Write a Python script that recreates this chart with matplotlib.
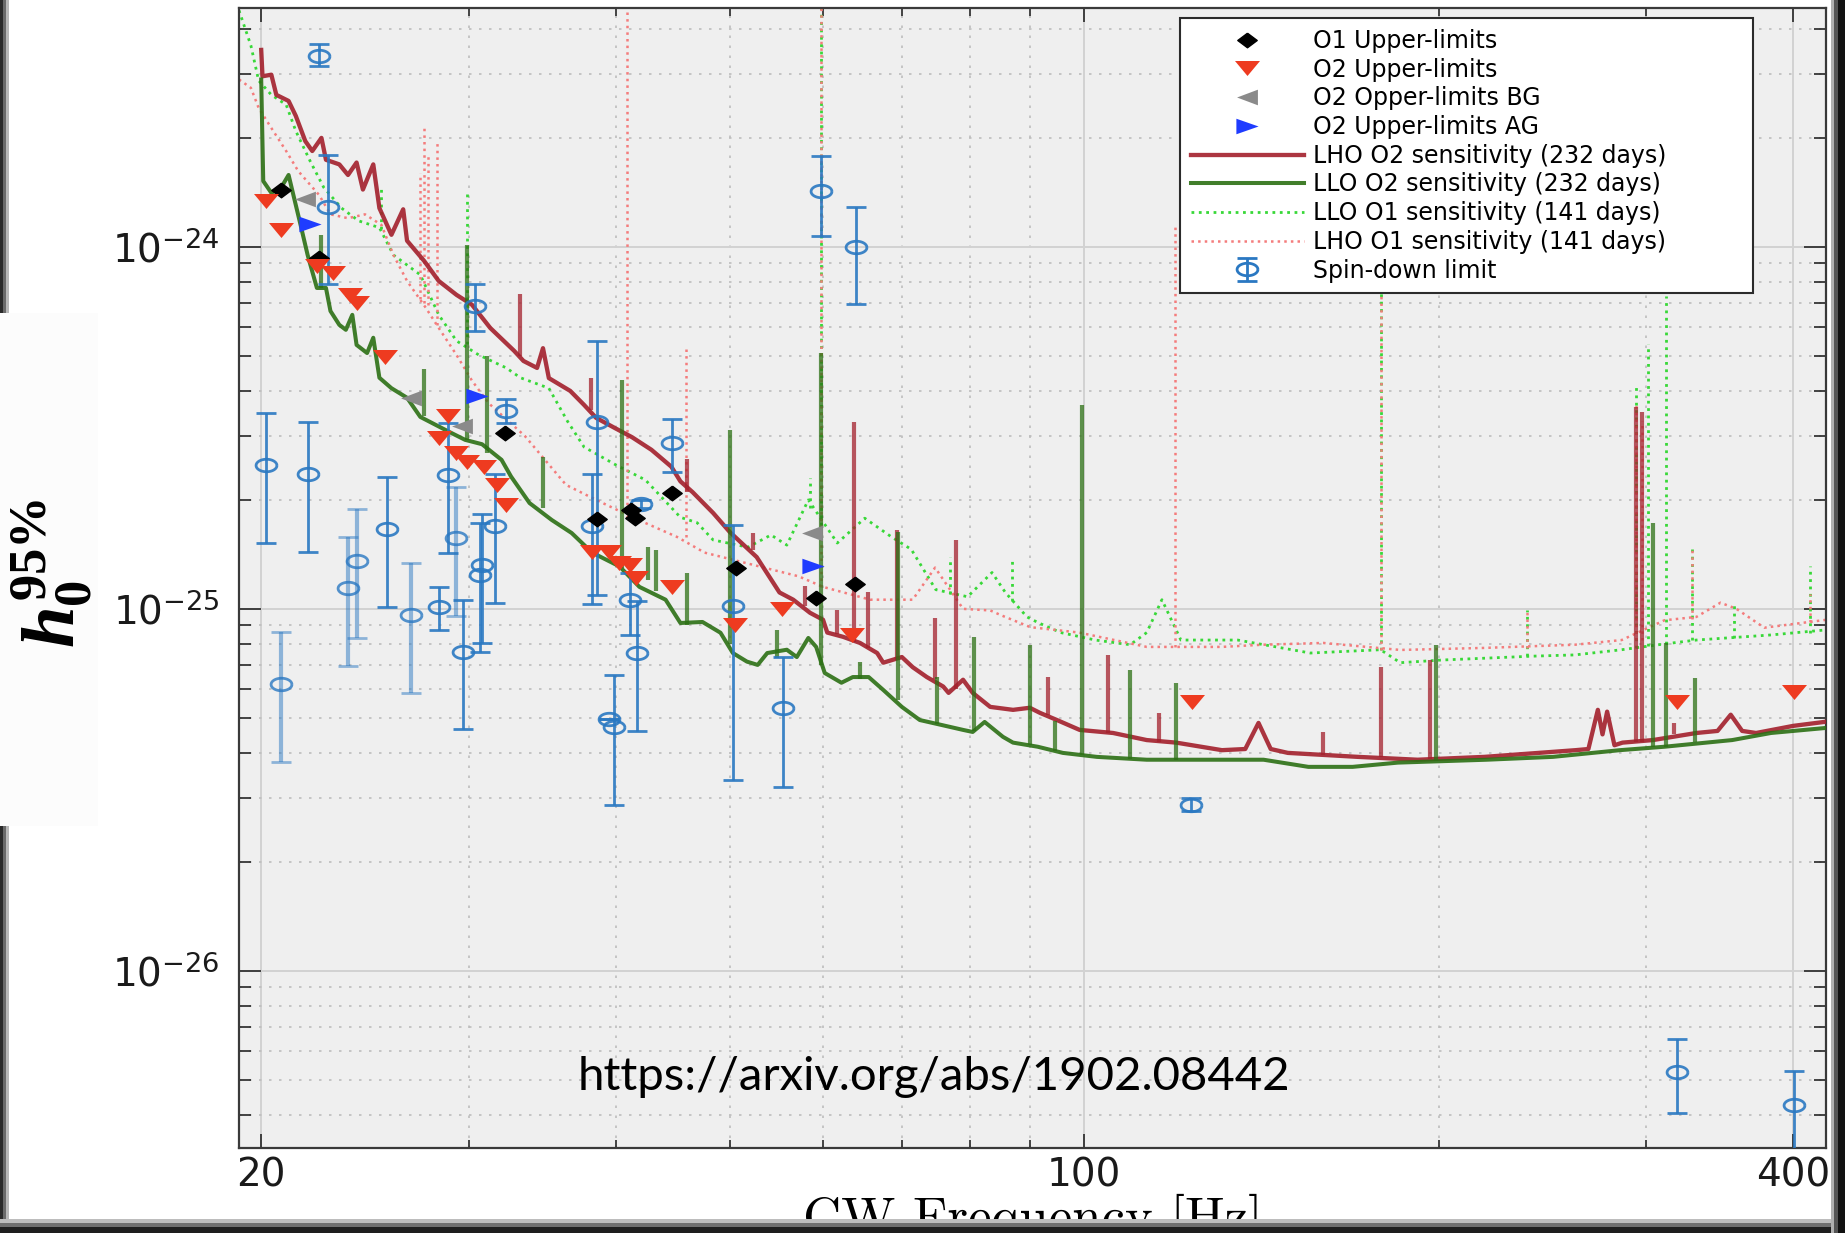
import numpy as np
import matplotlib
matplotlib.use('Agg')
import matplotlib.pyplot as plt
from matplotlib.path import Path
from matplotlib.patches import Rectangle
from matplotlib.ticker import FixedLocator, LogLocator, FuncFormatter, NullFormatter

plt.rcParams['font.family'] = ['DejaVu Sans']
plt.rcParams['axes.unicode_minus'] = False
plt.rcParams['mathtext.fontset'] = 'custom'
plt.rcParams['mathtext.it'] = 'Liberation Serif:italic:bold'
plt.rcParams['mathtext.rm'] = 'Liberation Serif:bold'
plt.rcParams['mathtext.bf'] = 'Liberation Serif:bold'

# ---- sensitivity curves: (frequency [Hz], h0) ----
lho_o2 = [(20.0, 3.5e-24), (20.05, 2.96e-24), (20.4, 2.99e-24), (20.6, 2.63e-24), (21.1, 2.53e-24),
          (21.4, 2.30e-24), (21.8, 1.96e-24), (22.1, 1.84e-24), (22.5, 2.0e-24), (22.7, 1.74e-24),
          (23.3, 1.69e-24), (23.7, 1.58e-24), (24.1, 1.71e-24), (24.4, 1.44e-24), (24.9, 1.69e-24),
          (25.2, 1.28e-24), (25.8, 1.08e-24), (26.4, 1.27e-24), (26.6, 1.04e-24), (27.5, 9.15e-25),
          (28.3, 8.05e-25), (29.3, 7.37e-25), (30.2, 6.92e-25), (31.3, 5.97e-25), (32.8, 5.16e-25),
          (33.4, 4.84e-25), (34.3, 4.63e-25), (34.7, 5.25e-25), (35.1, 4.34e-25), (36.6, 4.0e-25),
          (37.6, 3.66e-25), (38.5, 3.37e-25), (40.0, 3.15e-25), (41.3, 2.98e-25), (42.9, 2.75e-25),
          (44.6, 2.47e-25), (45.4, 2.25e-25), (46.5, 2.1e-25), (48.4, 1.84e-25), (50.0, 1.63e-25),
          (52.7, 1.39e-25), (55.1, 1.11e-25), (56.6, 1.06e-25), (58.5, 9.75e-26), (60.0, 9.33e-26),
          (60.5, 8.6e-26), (62.4, 8.37e-26), (64.5, 8.05e-26), (66.7, 7.55e-26), (67.5, 7.1e-26),
          (70.0, 7.36e-26), (71.5, 6.9e-26), (73.5, 6.48e-26), (75.9, 6.1e-26), (76.7, 5.86e-26),
          (78.9, 6.37e-26), (80.4, 5.86e-26), (83.2, 5.36e-26), (87.0, 5.26e-26), (89.9, 5.33e-26),
          (91.7, 5.16e-26), (94.8, 4.93e-26), (99.1, 4.63e-26), (105.8, 4.54e-26), (113.0, 4.34e-26),
          (119.7, 4.27e-26), (130.9, 4.07e-26), (137.0, 4.1e-26), (140.6, 4.84e-26), (144.0, 4.1e-26),
          (148.9, 4.0e-26), (170.8, 3.9e-26), (191.9, 3.83e-26), (218.7, 3.9e-26), (261.4, 4.07e-26),
          (268.0, 4.1e-26), (273.0, 5.26e-26), (275.5, 4.5e-26), (278.0, 5.2e-26), (282.0, 4.2e-26),
          (286.5, 4.27e-26), (304.0, 4.34e-26), (331.0, 4.54e-26), (345.0, 4.6e-26), (354.0, 5.1e-26),
          (362.0, 4.6e-26), (372.0, 4.54e-26), (400.0, 4.75e-26), (427.0, 4.88e-26)]

llo_o2 = [(20.0, 2.9e-24), (20.08, 1.52e-24), (20.4, 1.41e-24), (20.8, 1.46e-24), (21.1, 1.58e-24),
          (21.3, 1.39e-24), (21.6, 1.15e-24), (21.9, 9.5e-25), (22.3, 7.7e-25), (22.7, 7.7e-25),
          (22.9, 6.65e-25), (23.3, 6.09e-25), (23.6, 5.9e-25), (23.9, 6.49e-25), (24.1, 5.36e-25),
          (24.6, 5.09e-25), (24.9, 5.61e-25), (25.2, 4.35e-25), (25.8, 4.07e-25), (26.6, 3.83e-25),
          (27.3, 3.39e-25), (28.9, 3.08e-25), (29.8, 2.93e-25), (30.8, 2.85e-25), (32.0, 2.58e-25),
          (32.6, 2.32e-25), (33.8, 1.96e-25), (35.3, 1.76e-25), (36.7, 1.62e-25), (38.2, 1.43e-25),
          (40.3, 1.31e-25), (41.9, 1.15e-25), (44.1, 1.06e-25), (45.4, 9.14e-26), (47.4, 9.2e-26),
          (49.1, 8.59e-26), (50.3, 7.55e-26), (51.7, 7.15e-26), (52.8, 7.0e-26), (53.8, 7.55e-26),
          (55.9, 7.71e-26), (57.0, 7.36e-26), (58.3, 8.31e-26), (59.2, 7.85e-26), (60.2, 6.65e-26),
          (62.2, 6.25e-26), (63.6, 6.48e-26), (65.6, 6.48e-26), (67.5, 5.97e-26), (70.0, 5.36e-26),
          (72.5, 4.93e-26), (75.6, 4.78e-26), (78.9, 4.63e-26), (80.4, 4.57e-26), (82.3, 4.87e-26),
          (85.3, 4.43e-26), (87.0, 4.27e-26), (91.3, 4.16e-26), (95.9, 4.0e-26), (102.5, 3.9e-26),
          (113.0, 3.83e-26), (124.6, 3.83e-26), (142.0, 3.83e-26), (155.0, 3.66e-26), (169.0, 3.66e-26),
          (184.6, 3.76e-26), (219.6, 3.83e-26), (250.0, 3.9e-26), (285.0, 4.07e-26), (311.0, 4.16e-26),
          (355.0, 4.34e-26), (383.0, 4.54e-26), (427.0, 4.69e-26)]

llo_o1 = [(19.15, 4.5e-24), (19.6, 3.6e-24), (19.9, 2.88e-24), (20.4, 2.63e-24), (21.0, 2.47e-24),
          (21.4, 2.09e-24), (22.0, 1.73e-24), (22.6, 1.46e-24), (23.4, 1.28e-24), (24.2, 1.18e-24),
          (25.2, 1.13e-24), (25.9, 9.5e-25), (27.3, 8.37e-25), (28.3, 6.49e-25), (29.3, 5.5e-25),
          (30.6, 5.03e-25), (32.3, 4.63e-25), (33.2, 4.35e-25), (35.1, 4.07e-25), (36.4, 3.3e-25),
          (37.6, 2.8e-25), (40.0, 2.5e-25), (42.4, 2.27e-25), (45.4, 1.79e-25), (46.9, 1.73e-25),
          (48.4, 1.55e-25), (51.8, 1.48e-25), (54.2, 1.6e-25), (55.9, 1.5e-25), (58.3, 2.0e-25),
          (61.7, 1.52e-25), (65.1, 1.78e-25), (68.6, 1.58e-25), (71.3, 1.46e-25), (74.8, 1.13e-25),
          (79.6, 1.08e-25), (83.5, 1.26e-25), (85.7, 1.11e-25), (89.4, 9.5e-26), (91.5, 9.14e-26),
          (95.5, 8.6e-26), (102.2, 8.2e-26), (109.4, 7.96e-26), (113.0, 8.6e-26), (116.4, 1.06e-25),
          (120.8, 8.2e-26), (135.0, 8.2e-26), (155.6, 7.55e-26), (178.5, 7.71e-26), (185.5, 7.1e-26),
          (201.0, 7.22e-26), (240.0, 7.4e-26), (261.0, 7.46e-26), (286.0, 7.71e-26), (311.0, 8.0e-26),
          (331.0, 8.2e-26), (383.0, 8.47e-26), (427.0, 8.75e-26)]

lho_o1 = [(19.15, 2.9e-24), (19.6, 2.75e-24), (19.9, 2.42e-24), (20.4, 2.13e-24), (21.0, 1.84e-24),
          (21.5, 1.62e-24), (22.4, 1.39e-24), (22.9, 1.23e-24), (23.7, 1.2e-24), (24.5, 1.23e-24),
          (25.3, 1.15e-24), (25.9, 9.5e-25), (26.6, 8.05e-25), (27.6, 6.78e-25), (28.3, 5.97e-25),
          (29.3, 5.03e-25), (30.2, 4.27e-25), (31.2, 3.7e-25), (33.5, 3.0e-25), (36.3, 2.2e-25),
          (38.5, 2.0e-25), (41.5, 1.78e-25), (45.1, 1.58e-25), (47.6, 1.43e-25), (50.6, 1.36e-25),
          (57.2, 1.23e-25), (60.0, 1.15e-25), (65.8, 1.06e-25), (71.5, 1.06e-25), (74.7, 1.3e-25),
          (78.9, 1.0e-25), (83.2, 9.9e-26), (85.0, 9.6e-26), (90.0, 8.9e-26), (99.0, 8.6e-26),
          (113.0, 7.85e-26), (130.9, 7.85e-26), (141.8, 7.96e-26), (159.6, 8.05e-26), (185.5, 7.7e-26),
          (218.7, 7.8e-26), (261.0, 7.96e-26), (286.0, 8.2e-26), (311.0, 9.3e-26), (331.0, 9.5e-26),
          (347.0, 1.04e-25), (358.0, 1.0e-25), (378.0, 8.87e-26), (413.0, 9.2e-26), (427.0, 9.33e-26)]

# ---- narrow instrumental lines: (frequency, floor, peak) ----
lho_o2_lines = [(33.2, 5.0e-25, 7.4e-25), (38.1, 3.55e-25, 4.34e-25), (46.0, 2.1e-25, 2.6e-25),
                (52.3, 1.45e-25, 1.62e-25), (57.9, 1.02e-25, 1.16e-25), (61.7, 8.5e-26, 9.9e-26),
                (63.7, 8.1e-26, 3.29e-25), (65.5, 7.8e-26, 1.11e-25), (69.3, 7.2e-26, 1.65e-25),
                (74.7, 6.4e-26, 9.45e-26), (77.8, 6.0e-26, 1.55e-25), (93.1, 5.1e-26, 6.48e-26),
                (104.7, 4.55e-26, 7.46e-26), (115.8, 4.3e-26, 5.16e-26), (159.6, 3.95e-26, 4.57e-26),
                (178.6, 3.9e-26, 6.92e-26), (196.6, 3.85e-26, 7.22e-26), (294.3, 4.3e-26, 3.61e-25),
                (297.5, 4.3e-26, 3.5e-25), (317.0, 4.5e-26, 4.84e-26)]

llo_o2_lines = [(22.5, 7.7e-25, 1.08e-24), (27.5, 3.4e-25, 4.6e-25), (29.9, 2.93e-25, 1.01e-24),
                (31.1, 2.7e-25, 5.0e-25), (34.7, 1.9e-25, 2.63e-25), (40.5, 1.3e-25, 4.3e-25),
                (42.6, 1.2e-25, 1.48e-25), (43.3, 1.12e-25, 1.45e-25), (46.0, 9.0e-26, 1.26e-25),
                (50.0, 8.0e-26, 3.12e-25), (54.8, 7.3e-26, 8.75e-26), (59.8, 7.0e-26, 5.1e-25),
                (64.5, 6.4e-26, 7.15e-26), (69.5, 5.6e-26, 1.63e-25), (75.0, 4.8e-26, 6.48e-26),
                (80.6, 4.6e-26, 8.37e-26), (89.9, 4.2e-26, 7.96e-26), (94.5, 4.05e-26, 4.9e-26),
                (99.6, 3.95e-26, 3.66e-25), (109.4, 3.85e-26, 6.79e-26), (119.7, 3.83e-26, 6.25e-26),
                (198.9, 3.8e-26, 7.96e-26), (304.0, 4.15e-26, 1.73e-25), (312.0, 4.15e-26, 8.05e-26),
                (330.0, 4.3e-26, 6.45e-26)]

llo_o1_lines = [(25.3, 1.12e-24, 1.48e-24), (29.9, 5.4e-25, 1.41e-24), (58.5, 1.9e-25, 2.3e-25),
                (59.8, 1.7e-25, 5.0e-24), (76.9, 1.1e-25, 1.39e-25), (86.8, 1.05e-25, 1.38e-25),
                (178.6, 7.7e-26, 7.7e-25), (237.8, 7.4e-26, 9.9e-26), (294.3, 7.8e-26, 4.2e-25),
                (301.0, 7.9e-26, 5.4e-25), (312.0, 8.0e-26, 7.3e-25), (328.0, 8.2e-26, 1.46e-25),
                (356.0, 8.3e-26, 1.04e-25), (413.0, 8.6e-26, 1.31e-25)]

lho_o1_lines = [(27.3, 7.2e-25, 1.6e-24), (27.5, 7.0e-25, 2.16e-24), (27.7, 6.9e-25, 1.8e-24),
                (28.2, 6.1e-25, 1.96e-24), (40.9, 1.78e-25, 5.0e-24), (45.9, 1.58e-25, 5.26e-25),
                (59.8, 1.15e-25, 5.0e-24), (119.4, 7.85e-26, 1.14e-24), (178.6, 7.7e-26, 7.7e-25),
                (237.8, 7.8e-26, 9.9e-26), (294.3, 8.2e-26, 3.7e-25), (297.5, 8.2e-26, 3.3e-25),
                (328.0, 9.4e-26, 1.46e-25), (413.0, 9.2e-26, 1.1e-25)]

# ---- upper limits on individual pulsars: (frequency, h0) ----
o1_ul = [(20.8, 1.44e-24), (22.4, 9.33e-25), (32.2, 3.06e-25), (38.6, 1.77e-25), (41.2, 1.87e-25),
         (41.5, 1.78e-25), (44.7, 2.09e-25), (50.6, 1.3e-25), (59.2, 1.07e-25), (63.9, 1.17e-25)]

o2_ul = [(20.2, 1.34e-24), (20.8, 1.11e-24), (22.3, 8.86e-25), (23.0, 8.48e-25), (23.8, 7.37e-25),
         (24.1, 7.0e-25), (25.5, 4.97e-25), (28.8, 3.41e-25), (28.3, 2.96e-25), (29.3, 2.7e-25),
         (29.9, 2.55e-25), (30.9, 2.47e-25), (31.7, 2.2e-25), (32.3, 1.94e-25), (38.2, 1.44e-25),
         (39.5, 1.44e-25), (40.3, 1.34e-25), (41.1, 1.32e-25), (41.6, 1.22e-25), (44.7, 1.15e-25),
         (50.5, 9.04e-26), (55.4, 1.0e-25), (63.5, 8.47e-26), (123.4, 5.53e-26), (319.0, 5.53e-26),
         (401.0, 5.9e-26)]

o2_ul_bg = [(21.8, 1.36e-24), (26.8, 3.83e-25), (29.6, 3.2e-25), (58.7, 1.62e-25)]

o2_ul_ag = [(22.0, 1.16e-24), (30.5, 3.87e-25), (58.8, 1.31e-25)]

# ---- spin-down limits: (frequency, h0, lower, upper) ----
spindown = [(22.4, 3.37e-24, 3.16e-24, 3.63e-24), (22.8, 1.29e-24, 7.9e-25, 1.79e-24),
            (30.4, 6.87e-25, 5.86e-25, 7.9e-25), (20.2, 2.5e-25, 1.52e-25, 3.47e-25),
            (21.9, 2.36e-25, 1.44e-25, 3.29e-25), (25.6, 1.66e-25, 1.01e-25, 2.32e-25),
            (28.3, 1.01e-25, 8.75e-26, 1.15e-25), (28.8, 2.34e-25, 1.43e-25, 3.27e-25),
            (29.7, 7.6e-26, 4.67e-26, 1.06e-25), (30.8, 1.32e-25, 8.05e-26, 1.83e-25),
            (30.7, 1.24e-25, 7.59e-26, 1.73e-25), (31.6, 1.69e-25, 1.04e-25, 2.36e-25),
            (32.3, 3.52e-25, 3.27e-25, 3.8e-25), (38.2, 1.69e-25, 1.03e-25, 2.36e-25),
            (38.6, 3.29e-25, 1.09e-25, 5.5e-25), (39.5, 4.97e-26, 4.97e-26, 4.97e-26),
            (39.9, 4.72e-26, 2.88e-26, 6.58e-26), (41.1, 1.06e-25, 8.47e-26, 1.26e-25),
            (41.7, 7.55e-26, 4.6e-26, 1.05e-25), (42.0, 1.95e-25, 1.9e-25, 2.0e-25),
            (44.7, 2.88e-25, 2.39e-25, 3.35e-25), (50.3, 1.02e-25, 3.37e-26, 1.71e-25),
            (55.5, 5.33e-26, 3.22e-26, 7.36e-26), (59.8, 1.43e-24, 1.07e-24, 1.78e-24),
            (64.0, 1.0e-24, 6.97e-25, 1.29e-24), (123.2, 2.88e-26, 2.77e-26, 3.0e-26),
            (319.0, 5.26e-27, 4.06e-27, 6.49e-27), (401.0, 4.26e-27, 3.0e-27, 5.3e-27)]

# fainter group of spin-down limits
spindown_faint = [(20.8, 6.2e-26, 3.78e-26, 8.63e-26), (23.7, 1.14e-25, 6.97e-26, 1.58e-25),
                  (24.1, 1.36e-25, 8.32e-26, 1.89e-25), (26.8, 9.6e-26, 5.86e-26, 1.34e-25),
                  (29.3, 1.57e-25, 9.57e-26, 2.17e-25)]

# colours
c_lho_o2 = '#a3202c'
c_llo_o2 = '#2c7014'
c_llo_o1 = '#38d838'
c_lho_o1 = '#f47c7c'
c_spin = '#2a78c2'
c_o2 = '#ee3b20'

# squashed marker shapes
t = np.linspace(0, 2 * np.pi, 65)
m_ellipse = Path(np.column_stack([np.cos(t), 0.6 * np.sin(t)]))
m_down = Path([(-1, 0.6), (1, 0.6), (0, -0.6), (-1, 0.6)])
m_left = Path([(-1, 0), (1, 0.75), (1, -0.75), (-1, 0)])
m_right = Path([(1, 0), (-1, 0.7), (-1, -0.7), (1, 0)])
m_diamond = Path([(0, 0.75), (1, 0), (0, -0.75), (-1, 0), (0, 0.75)])


def cols(rows, i):
    return [r[i] for r in rows]


fig = plt.figure(figsize=(18.45, 12.33), dpi=100)
ax = fig.add_axes([239 / 1845, 85 / 1233, 1587 / 1845, 1140 / 1233])
ax.set_facecolor('#efefef')
ax.set_xscale('log')
ax.set_yscale('log')

# O1 sensitivities (dotted)
l_llo_o1, = ax.plot(cols(llo_o1, 0), cols(llo_o1, 1), ls=':', color=c_llo_o1, lw=2.0, zorder=2,
                    label='LLO O1 sensitivity (141 days)')
ax.vlines(cols(llo_o1_lines, 0), cols(llo_o1_lines, 1), cols(llo_o1_lines, 2),
          colors=c_llo_o1, linestyles=':', lw=2.0, zorder=2)
l_lho_o1, = ax.plot(cols(lho_o1, 0), cols(lho_o1, 1), ls=':', color=c_lho_o1, lw=1.8, zorder=2,
                    label='LHO O1 sensitivity (141 days)')
ax.vlines(cols(lho_o1_lines, 0), cols(lho_o1_lines, 1), cols(lho_o1_lines, 2),
          colors=c_lho_o1, linestyles=':', lw=1.8, zorder=2)

# O2 sensitivities (solid)
l_lho_o2, = ax.plot(cols(lho_o2, 0), cols(lho_o2, 1), color=c_lho_o2, lw=3.1, alpha=0.9, zorder=3,
                    label='LHO O2 sensitivity (232 days)')
ax.vlines(cols(lho_o2_lines, 0), cols(lho_o2_lines, 1), cols(lho_o2_lines, 2),
          colors=c_lho_o2, lw=3.0, alpha=0.75, zorder=3)
l_llo_o2, = ax.plot(cols(llo_o2, 0), cols(llo_o2, 1), color=c_llo_o2, lw=2.9, alpha=0.9, zorder=3,
                    label='LLO O2 sensitivity (232 days)')
ax.vlines(cols(llo_o2_lines, 0), cols(llo_o2_lines, 1), cols(llo_o2_lines, 2),
          colors=c_llo_o2, lw=3.0, alpha=0.75, zorder=3)

# spin-down limits
sd_h = np.array(cols(spindown, 1))
sd_err = [sd_h - np.array(cols(spindown, 2)), np.array(cols(spindown, 3)) - sd_h]
ax.errorbar(cols(spindown, 0), sd_h, yerr=sd_err, fmt='none', ecolor=c_spin,
            elinewidth=2.0, capsize=7, capthick=2.0, zorder=4, alpha=0.9)
ax.plot(cols(spindown, 0), sd_h, ls='none', marker=m_ellipse, ms=15, mfc='none', mec=c_spin,
        mew=2.0, zorder=4, alpha=0.9)
sf_h = np.array(cols(spindown_faint, 1))
sf_err = [sf_h - np.array(cols(spindown_faint, 2)), np.array(cols(spindown_faint, 3)) - sf_h]
ax.errorbar(cols(spindown_faint, 0), sf_h, yerr=sf_err, fmt='none', ecolor=c_spin,
            elinewidth=3.0, capsize=7, capthick=2.0, zorder=4, alpha=0.5)
ax.plot(cols(spindown_faint, 0), sf_h, ls='none', marker=m_ellipse, ms=15, mfc='none', mec=c_spin,
        mew=2.0, zorder=4, alpha=0.8)
# legend entry for the spin-down limits (nothing drawn in the axes)
h_spin = ax.errorbar([np.nan], [np.nan], yerr=[[np.nan], [np.nan]], marker=m_ellipse, ms=15,
                     mfc='none', mec=c_spin, mew=2.0, ecolor=c_spin, elinewidth=2.0, capsize=7,
                     capthick=2.0, ls='none', label='Spin-down limit')

# upper limits
h_o1, = ax.plot(cols(o1_ul, 0), cols(o1_ul, 1), ls='none', marker=m_diamond, ms=14, color='black',
                zorder=6, label='O1 Upper-limits')
h_o2, = ax.plot(cols(o2_ul, 0), cols(o2_ul, 1), ls='none', marker=m_down, ms=18, color=c_o2,
                mec='none', zorder=6, label='O2 Upper-limits')
h_bg, = ax.plot(cols(o2_ul_bg, 0), cols(o2_ul_bg, 1), ls='none', marker=m_left, ms=15,
                color='#8a8a8a', mec='none', zorder=6, label='O2 Opper-limits BG')
h_ag, = ax.plot(cols(o2_ul_ag, 0), cols(o2_ul_ag, 1), ls='none', marker=m_right, ms=16,
                color='#1f3cff', mec='none', zorder=6, label='O2 Upper-limits AG')

ax.set_xlim(19.15, 426.5)
ax.set_ylim(3.24e-27, 4.57e-24)

# ticks and grid
ax.xaxis.set_major_locator(FixedLocator([20, 100, 400]))
ax.xaxis.set_major_formatter(FuncFormatter(lambda v, p: '%d' % round(v)))
ax.xaxis.set_minor_locator(LogLocator(base=10, subs=np.arange(2, 10), numticks=20))
ax.xaxis.set_minor_formatter(NullFormatter())
ax.yaxis.set_major_locator(FixedLocator([1e-26, 1e-25, 1e-24]))
ax.yaxis.set_minor_locator(LogLocator(base=10, subs=np.arange(2, 10), numticks=20))
ax.yaxis.set_major_formatter(FuncFormatter(lambda v, p: r'$\mathregular{10^{%d}}$' % round(np.log10(v))))
ax.yaxis.set_minor_formatter(NullFormatter())

ax.tick_params(which='both', direction='in', top=True, right=True, color='#262626', width=1.2,
               labelsize=28, labelcolor='#1a1a1a')
ax.tick_params(axis='x', which='major', length=10, pad=6)
ax.tick_params(axis='x', which='minor', length=6)
ax.tick_params(axis='y', which='major', length=16, pad=14)
ax.tick_params(axis='y', which='minor', length=8.5)

ax.grid(which='major', color='#d2d2d2', ls='-', lw=1.4)
ax.grid(which='minor', color='#bdbdbd', ls=(0, (1.5, 4.5)), lw=1.2)
ax.set_axisbelow(True)
for s in ax.spines.values():
    s.set_color('#3a3a3a')
    s.set_linewidth(1.6)

ax.set_xlabel('CW Frequency [Hz]', fontfamily='cmr10', fontsize=38, labelpad=0)

leg = ax.legend(handles=[h_o1, h_o2, h_bg, h_ag, l_lho_o2, l_llo_o2, l_llo_o1, l_lho_o1, h_spin],
                loc='upper left', bbox_to_anchor=(0.593, 0.755, 0.361, 0.236), mode='expand',
                fontsize=17, frameon=True, fancybox=False, edgecolor='#2b2b2b', framealpha=1,
                borderpad=0.45, labelspacing=0.2, handlelength=4.8, handletextpad=0.4,
                borderaxespad=0)
leg.get_frame().set_linewidth(1.5)
leg.set_zorder(10)

# slide frame around the figure
W, H = 1845, 1233


def px_rect(x, y, w, h, color, z):
    fig.add_artist(Rectangle((x / W, 1 - (y + h) / H), w / W, h / H, transform=fig.transFigure,
                             facecolor=color, edgecolor='none', zorder=z))


px_rect(0, 0, 3, H, '#2a2a2a', 1)
px_rect(3, 0, 3, H, '#6a6a6a', 1)
px_rect(6, 0, 3, H, '#b8b8b8', 1)
px_rect(0, 313, 98, 513, '#fcfcfc', 2)
px_rect(0, 1219, W, 4, '#bdbdbd', 5)
px_rect(0, 1223, W, 4, '#6f6f6f', 5)
px_rect(0, 1227, W, 6, '#1e1e1e', 5)
px_rect(1831, 0, 3, H, '#b0b0b0', 5)
px_rect(1834, 0, 4, H, '#555555', 5)
px_rect(1838, 0, 7, H, '#111111', 5)

fig.text(52 / W, 1 - 573 / H, r'$\mathit{h}_{\mathit{0}}^{\mathit{95\%}}$', rotation=90,
         fontsize=54, ha='center', va='center', zorder=3)
fig.text(934 / W, 1 - 1077 / H, 'https://arxiv.org/abs/1902.08442', fontsize=34, family='Lato',
         color='black', ha='center', va='center', zorder=6)

fig.savefig('out.png', dpi=100, facecolor='white')
